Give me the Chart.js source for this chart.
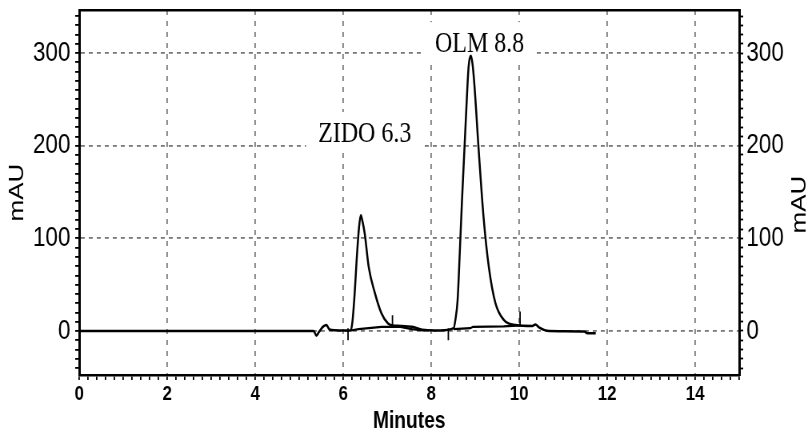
<!DOCTYPE html>
<html>
<head>
<meta charset="utf-8">
<script src="https://cdn.jsdelivr.net/npm/chart.js@4.4.0/dist/chart.umd.min.js"></script>
<style>
    html, body { margin: 0; padding: 0; background: #fff; overflow: hidden; }
    /* the original figure is squeezed horizontally, so draw wide and squeeze */
    #chromatogram { display: block; transform: scaleX(0.8); transform-origin: 0 0; }
</style>
</head>
<body>
<canvas id="chromatogram" width="1010" height="439"></canvas>
<script>
// ========================================
// DATA
// ========================================

// main detector trace
const traceTime = [0, 5.33, 5.39, 5.45, 5.55, 5.62, 5.68, 5.75, 6.0, 6.17, 6.21, 6.25, 6.32, 6.36, 6.40, 6.44, 6.49, 6.58, 6.72, 6.87, 7.02, 7.12, 7.3, 7.56, 7.86, 8.2, 8.51, 8.55, 8.60, 8.65, 8.70, 8.79, 8.85, 8.90, 8.94, 8.98, 9.08, 9.19, 9.31, 9.46, 9.65, 9.92, 10.3, 10.37, 10.45, 10.68, 11.48, 11.55, 11.74];
const traceMAU  = [0, 0, -5, -1, 5, 6.5, 2, 1, 0.5, 0.5, 10, 33, 87, 112, 125, 118, 105, 69, 41, 19, 8, 6, 5.5, 4.5, 1, 0.5, 3, 12, 33, 85, 141, 231, 285, 297, 288, 267, 195, 123, 69, 30, 12, 6.5, 5.5, 7, 4, 0, -0.5, -2.5, -2.5];

// integration baselines under the two peaks (null = break)
const baseTime = [6.17, 6.35, 6.87, 7.3, 7.56, 7.86, 8.2, 8.51, 8.89, 8.95, 9.65, 10.03];
const baseMAU  = [0.5, 2, 4.5, 4.5, 2, 0.5, null, 2, 3, 4.5, 5, 6];

// peak start / end markers
const markerTime = [6.11, 7.12, 8.39, 10.02];
const markerLow  = [-10, 5, -10, 5];
const markerHigh = [3, 17, 3, 21];

// peak annotations
const peakNames     = ['ZIDO 6.3', 'OLM 8.8'];
const peakLabelTime = [6.49, 9.10];
const peakLabelMAU  = [204, 301];

// axes
const xRange = [0, 15];
const yRange = [-47.5, 346.5];
const xLabelTicks = [0, 2, 4, 6, 8, 10, 12, 14];
const xGridTicks  = [2, 4, 6, 8, 10, 12, 14];
const yLabelTicks = [0, 100, 200, 300];

// ========================================
// HELPERS
// ========================================

const toPoints = (xs, ys) => xs.map((x, i) => ({ x, y: ys[i] }));

const markerPoints = () => {
    const pts = [];
    markerTime.forEach((t, i) => {
        pts.push({ x: t, y: markerLow[i] }, { x: t, y: markerHigh[i] }, { x: t, y: null });
    });
    return pts;
};

const hasTick = (v, list) => list.some(t => Math.abs(v - t) < 1e-6);

const gridColor = list => ctx => (ctx.tick && hasTick(ctx.tick.value, list)) ? '#7a7a7a' : 'rgba(0,0,0,0)';

// fixed box sizes so the plot area lands where it does in the figure
const fixWidth = w => scale => { scale.width = w; scale.paddingTop = 0; scale.paddingBottom = 0; };
const fixHeight = h => scale => { scale.height = h; scale.paddingLeft = 0; scale.paddingRight = 0; };

const SANS = '"Liberation Sans", Arial, sans-serif';

// white boxes behind the peak labels + the labels and the right axis title
const annotate = {
    id: 'annotate',
    beforeDatasetsDraw(chart) {
        const { ctx, scales: { x, y } } = chart;
        ctx.save();
        ctx.font = '30px "Liberation Serif", "Times New Roman", serif';
        ctx.fillStyle = '#fff';
        peakNames.forEach((name, i) => {
            const w = ctx.measureText(name).width + 30;
            const px = x.getPixelForValue(peakLabelTime[i]);
            const py = y.getPixelForValue(peakLabelMAU[i]);
            ctx.fillRect(px - w / 2, py - 30, w, 38);
        });
        ctx.restore();
    },
    afterDraw(chart) {
        const { ctx, chartArea, scales: { x, y, y2 } } = chart;
        ctx.save();
        ctx.fillStyle = '#000';
        ctx.font = '30px "Liberation Serif", "Times New Roman", serif';
        ctx.textAlign = 'center';
        ctx.textBaseline = 'alphabetic';
        peakNames.forEach((name, i) => {
            ctx.fillText(name, x.getPixelForValue(peakLabelTime[i]), y.getPixelForValue(peakLabelMAU[i]));
        });
        // right axis title reads bottom-to-top like the left one
        ctx.font = '26px ' + SANS;
        ctx.textBaseline = 'middle';
        ctx.translate(y2.right - 10, (chartArea.top + chartArea.bottom) / 2 + 12);
        ctx.rotate(-Math.PI / 2);
        ctx.fillText('mAU', 0, 0);
        ctx.restore();
    }
};

// ========================================
// CHART
// ========================================

Chart.defaults.color = '#000';
Chart.defaults.font.family = SANS;

const yTicks = {
    stepSize: 10,
    includeBounds: false,
    autoSkip: false,
    font: { size: 28 },
    callback: v => hasTick(v, yLabelTicks) ? String(Math.round(v)) : ''
};

new Chart(document.getElementById('chromatogram'), {
    type: 'line',
    data: {
        datasets: [
            {
                data: toPoints(traceTime, traceMAU),
                borderColor: '#000',
                borderWidth: 2.5,
                pointRadius: 0,
                cubicInterpolationMode: 'monotone'
            },
            {
                data: toPoints(baseTime, baseMAU),
                borderColor: '#000',
                borderWidth: 2.2,
                pointRadius: 0,
                spanGaps: false
            },
            {
                data: markerPoints(),
                borderColor: '#000',
                borderWidth: 1.8,
                pointRadius: 0,
                spanGaps: false
            }
        ]
    },
    options: {
        responsive: false,
        animation: false,
        layout: { padding: { top: 10, left: 0, right: 0, bottom: 0 } },
        plugins: {
            legend: { display: false },
            tooltip: { enabled: false }
        },
        scales: {
            x: {
                type: 'linear',
                position: 'bottom',
                min: xRange[0],
                max: xRange[1],
                afterFit: fixHeight(64),
                ticks: {
                    stepSize: 0.2,
                    autoSkip: false,
                    maxRotation: 0,
                    minRotation: 0,
                    padding: 2,
                    font: { size: 21, weight: 'bold' },
                    callback: v => hasTick(v, xLabelTicks) ? String(Math.round(v)) : ''
                },
                grid: {
                    color: gridColor(xGridTicks),
                    lineWidth: 1.8,
                    tickColor: '#000',
                    tickWidth: 1.8,
                    tickLength: 5,
                    tickBorderDash: []
                },
                border: { color: '#000', width: 2.5, dash: [5, 6] },
                title: {
                    display: true,
                    text: 'Minutes',
                    font: { size: 24, weight: 'bold' },
                    padding: { top: 0, bottom: 3 }
                }
            },
            xTop: {
                type: 'linear',
                position: 'top',
                min: xRange[0],
                max: xRange[1],
                afterFit: fixHeight(0),
                ticks: { display: false },
                grid: { display: false, drawTicks: false },
                border: { color: '#000', width: 2.5 }
            },
            y: {
                type: 'linear',
                position: 'left',
                min: yRange[0],
                max: yRange[1],
                afterFit: fixWidth(99),
                ticks: { ...yTicks, padding: 6 },
                grid: {
                    color: gridColor(yLabelTicks),
                    lineWidth: 1.8,
                    tickColor: '#000',
                    tickWidth: 1.8,
                    tickLength: 5,
                    tickBorderDash: []
                },
                border: { color: '#000', width: 3, dash: [5, 5] },
                title: {
                    display: true,
                    text: 'mAU',
                    font: { size: 26 },
                    padding: { top: 6, bottom: 0 }
                }
            },
            y2: {
                type: 'linear',
                position: 'right',
                min: yRange[0],
                max: yRange[1],
                afterFit: fixWidth(86),
                ticks: { ...yTicks, padding: 4 },
                grid: {
                    drawOnChartArea: false,
                    tickColor: '#000',
                    tickWidth: 1.8,
                    tickLength: 5,
                    tickBorderDash: []
                },
                border: { color: '#000', width: 3 }
            }
        }
    },
    plugins: [annotate]
});
</script>
</body>
</html>
